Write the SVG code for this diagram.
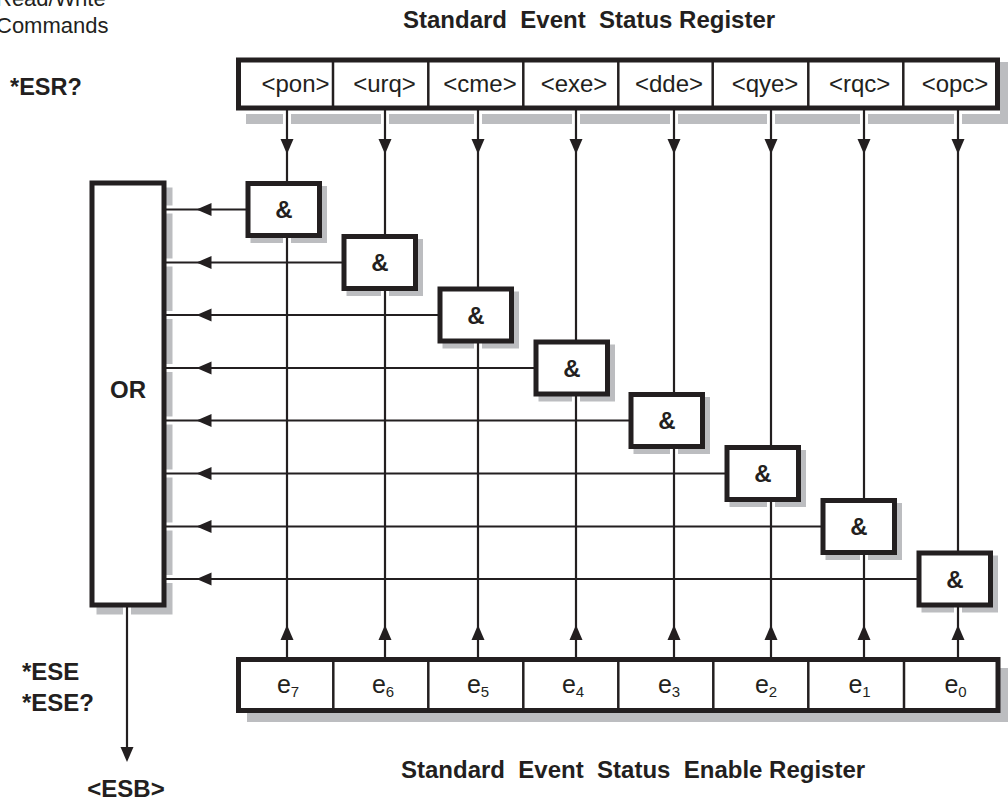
<svg xmlns="http://www.w3.org/2000/svg" width="1008" height="804" viewBox="0 0 1008 804">
  <style>
    .ink { fill: none; stroke: #231f20; }
    .box { fill: #ffffff; stroke: #231f20; stroke-width: 5; }
    .div { stroke: #231f20; stroke-width: 2.5; }
    .wire { stroke: #231f20; stroke-width: 2.2; fill: none; }
    .halo { stroke: #ffffff; stroke-width: 8; fill: none; }
    .shadow { fill: #bcbdc0; }
    .head { fill: #231f20; }
    text { font-family: "Liberation Sans", Arial, Helvetica, sans-serif; fill: #231f20; }
    .lbl { font-size: 24px; }
    .bold { font-size: 24px; font-weight: bold; }
    .cell { font-size: 24px; text-anchor: middle; }
    .amp { font-size: 24px; font-weight: bold; text-anchor: middle; }
    .sub { font-size: 15px; }
  </style>
  <defs>
    <!-- arrowhead, tip at the origin, pointing along +x -->
    <path id="ah" class="head" d="M0,0 L-15,-6.5 L-15,6.5 Z"/>
  </defs>

  <rect width="1008" height="804" fill="#ffffff"/>

  <!-- drop shadows -->
  <g id="shadows">
    <rect class="shadow" x="1000" y="62" width="10" height="62"/>
    <rect class="shadow" x="246" y="114" width="764" height="10"/>
    <rect class="shadow" x="247" y="668" width="763" height="54"/>
    <rect class="shadow" x="96.5" y="187.5" width="76" height="427"/>
    <rect class="shadow" x="250.5" y="186" width="76.5" height="57"/>
    <rect class="shadow" x="346.5" y="239" width="76.5" height="57"/>
    <rect class="shadow" x="442.5" y="291.5" width="76.5" height="57"/>
    <rect class="shadow" x="538.5" y="344.5" width="76.5" height="57"/>
    <rect class="shadow" x="633.5" y="397" width="76.5" height="57"/>
    <rect class="shadow" x="729.5" y="450" width="76.5" height="57"/>
    <rect class="shadow" x="825.5" y="503" width="76.5" height="57"/>
    <rect class="shadow" x="921.5" y="555.5" width="76.5" height="57"/>
  </g>

  <!-- white clearance around wires where they cross shadows -->
  <g id="halos">
    <path class="halo" d="M287,111 V183.5 M385,111 V236.5 M478,111 V289 M576,111 V342 M674,111 V394.5 M771,111 V447.5 M864,111 V500.5 M958,111 V553"/>
    <path class="halo" d="M287,235.5 V657 M385,288.5 V657 M478,341 V657 M576,394 V657 M674,446.5 V657 M771,499.5 V657 M864,552.5 V657 M958,605 V657"/>
    <path class="halo" d="M166,209.5 H248 M166,262.5 H344 M166,315 H440 M166,368 H536 M166,420.5 H631 M166,473.5 H727 M166,526.5 H823 M166,579 H919"/>
    <path class="halo" d="M127,607 V748"/>
  </g>

  <!-- connectors -->
  <g id="connectors">
    <!-- status bits into the AND gates -->
    <path class="wire" d="M287,110 V183.5 M385,110 V236.5 M478,110 V289 M576,110 V342 M674,110 V394.5 M771,110 V447.5 M864,110 V500.5 M958,110 V553"/>
    <use href="#ah" transform="translate(287,154) rotate(90)"/>
    <use href="#ah" transform="translate(385,154) rotate(90)"/>
    <use href="#ah" transform="translate(478,154) rotate(90)"/>
    <use href="#ah" transform="translate(576,154) rotate(90)"/>
    <use href="#ah" transform="translate(674,154) rotate(90)"/>
    <use href="#ah" transform="translate(771,154) rotate(90)"/>
    <use href="#ah" transform="translate(864,154) rotate(90)"/>
    <use href="#ah" transform="translate(958,154) rotate(90)"/>

    <!-- enable bits into the AND gates -->
    <path class="wire" d="M287,235.5 V657 M385,288.5 V657 M478,341 V657 M576,394 V657 M674,446.5 V657 M771,499.5 V657 M864,552.5 V657 M958,605 V657"/>
    <use href="#ah" transform="translate(287,625) rotate(-90)"/>
    <use href="#ah" transform="translate(385,625) rotate(-90)"/>
    <use href="#ah" transform="translate(478,625) rotate(-90)"/>
    <use href="#ah" transform="translate(576,625) rotate(-90)"/>
    <use href="#ah" transform="translate(674,625) rotate(-90)"/>
    <use href="#ah" transform="translate(771,625) rotate(-90)"/>
    <use href="#ah" transform="translate(864,625) rotate(-90)"/>
    <use href="#ah" transform="translate(958,625) rotate(-90)"/>

    <!-- AND outputs into the OR gate -->
    <path class="wire" d="M165,209.5 H248 M165,262.5 H344 M165,315 H440 M165,368 H536 M165,420.5 H631 M165,473.5 H727 M165,526.5 H823 M165,579 H919"/>
    <use href="#ah" transform="translate(196.5,209.5) rotate(180)"/>
    <use href="#ah" transform="translate(196.5,262.5) rotate(180)"/>
    <use href="#ah" transform="translate(196.5,315) rotate(180)"/>
    <use href="#ah" transform="translate(196.5,368) rotate(180)"/>
    <use href="#ah" transform="translate(196.5,420.5) rotate(180)"/>
    <use href="#ah" transform="translate(196.5,473.5) rotate(180)"/>
    <use href="#ah" transform="translate(196.5,526.5) rotate(180)"/>
    <use href="#ah" transform="translate(196.5,579) rotate(180)"/>

    <!-- OR output to the ESB bit -->
    <path class="wire" d="M127,607 V750"/>
    <use href="#ah" transform="translate(127,762) rotate(90)"/>
  </g>

  <!-- Standard Event Status Register -->
  <g id="esr">
    <rect class="box" x="238.5" y="60" width="759" height="48"/>
    <path class="div" d="M333,60 V108 M428.3,60 V108 M523.3,60 V108 M618.3,60 V108 M712.7,60 V108 M808.3,60 V108 M903.3,60 V108"/>
    <text class="cell" x="295.5" y="92">&lt;pon&gt;</text>
    <text class="cell" x="384.5" y="92">&lt;urq&gt;</text>
    <text class="cell" x="480" y="92">&lt;cme&gt;</text>
    <text class="cell" x="574" y="92">&lt;exe&gt;</text>
    <text class="cell" x="669" y="92">&lt;dde&gt;</text>
    <text class="cell" x="765" y="92">&lt;qye&gt;</text>
    <text class="cell" x="859.7" y="92">&lt;rqc&gt;</text>
    <text class="cell" x="955" y="92">&lt;opc&gt;</text>
  </g>

  <!-- Standard Event Status Enable Register -->
  <g id="ese">
    <rect class="box" x="238.5" y="659.5" width="759.5" height="51"/>
    <path class="div" d="M333.3,659.5 V710.5 M428.3,659.5 V710.5 M523.3,659.5 V710.5 M618.3,659.5 V710.5 M713.3,659.5 V710.5 M808.3,659.5 V710.5 M904,659.5 V710.5"/>
    <text class="cell" x="288" y="693" style="font-size:25px">e<tspan class="sub" dy="4">7</tspan></text>
    <text class="cell" x="383" y="693" style="font-size:25px">e<tspan class="sub" dy="4">6</tspan></text>
    <text class="cell" x="478" y="693" style="font-size:25px">e<tspan class="sub" dy="4">5</tspan></text>
    <text class="cell" x="573" y="693" style="font-size:25px">e<tspan class="sub" dy="4">4</tspan></text>
    <text class="cell" x="669" y="693" style="font-size:25px">e<tspan class="sub" dy="4">3</tspan></text>
    <text class="cell" x="766" y="693" style="font-size:25px">e<tspan class="sub" dy="4">2</tspan></text>
    <text class="cell" x="859.5" y="693" style="font-size:25px">e<tspan class="sub" dy="4">1</tspan></text>
    <text class="cell" x="955.5" y="693" style="font-size:25px">e<tspan class="sub" dy="4">0</tspan></text>
  </g>

  <!-- OR gate -->
  <g id="or">
    <rect class="box" x="92" y="183" width="72" height="422"/>
    <text class="amp" x="128" y="398">OR</text>
  </g>

  <!-- AND gates, one per bit -->
  <g id="and7"><rect class="box" x="248" y="183.5" width="71.5" height="52"/><text class="amp" x="283.8" y="218">&amp;</text></g>
  <g id="and6"><rect class="box" x="344" y="236.5" width="71.5" height="52"/><text class="amp" x="379.8" y="271">&amp;</text></g>
  <g id="and5"><rect class="box" x="440" y="289" width="71.5" height="52"/><text class="amp" x="475.8" y="323.5">&amp;</text></g>
  <g id="and4"><rect class="box" x="536" y="342" width="71.5" height="52"/><text class="amp" x="571.8" y="376.5">&amp;</text></g>
  <g id="and3"><rect class="box" x="631" y="394.5" width="71.5" height="52"/><text class="amp" x="666.8" y="429">&amp;</text></g>
  <g id="and2"><rect class="box" x="727" y="447.5" width="71.5" height="52"/><text class="amp" x="762.8" y="482">&amp;</text></g>
  <g id="and1"><rect class="box" x="823" y="500.5" width="71.5" height="52"/><text class="amp" x="858.8" y="535">&amp;</text></g>
  <g id="and0"><rect class="box" x="919" y="553" width="71.5" height="52"/><text class="amp" x="954.8" y="587.5">&amp;</text></g>

  <!-- labels -->
  <g id="labels">
    <text class="lbl" x="-4" y="6" style="font-size:22px">Read/Write</text>
    <text class="lbl" x="-4" y="33" style="font-size:22px">Commands</text>
    <text class="bold" x="10" y="95" style="font-size:23.5px">*ESR?</text>
    <text class="bold" x="22" y="680">*ESE</text>
    <text class="bold" x="22" y="711">*ESE?</text>
    <text class="bold" x="126" y="797" text-anchor="middle">&lt;ESB&gt;</text>
    <text class="bold" x="403" y="28" xml:space="preserve">Standard  Event  Status Register</text>
    <text class="bold" x="401" y="778" xml:space="preserve">Standard  Event  Status  Enable Register</text>
  </g>
</svg>
